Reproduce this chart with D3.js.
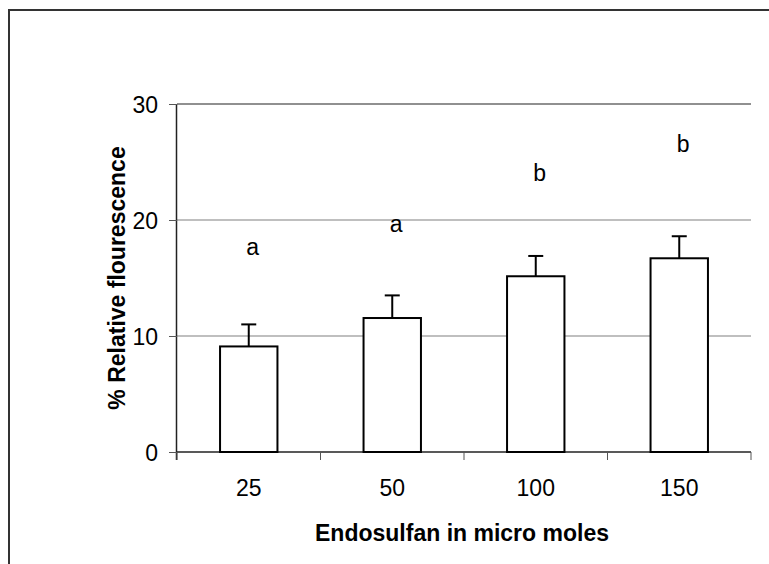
<!DOCTYPE html>
<html>
<head>
<meta charset="utf-8">
<script src="https://cdn.jsdelivr.net/npm/d3@7"></script>
<style>
  body { margin: 0; background: #fff; }
  svg text { font-family: "Liberation Sans", Arial, sans-serif; fill: #000; }
</style>
</head>
<body>
<svg id="chart"></svg>
<script>
// values
const doses = ["25", "50", "100", "150"];
const means = [9.1, 11.55, 15.15, 16.7];
const errors = [1.9, 1.95, 1.75, 1.9];
const letters = ["a", "a", "b", "b"];
const letterLevel = [17.0, 19.0, 23.4, 25.9];
const yTicks = [0, 10, 20, 30];

const W = 769, H = 564;
const margin = {top: 104, right: 18, bottom: 112, left: 177};
const innerW = W - margin.left - margin.right;
const innerH = H - margin.top - margin.bottom;
const fs = "23px";

const svg = d3.select("#chart").attr("width", W).attr("height", H);

// outer frame (only top and left edges show)
svg.append("path")
  .attr("d", `M9,${H} L9,10 L${W},10`)
  .attr("fill", "none")
  .attr("stroke", "#333")
  .attr("stroke-width", 2);

const g = svg.append("g").attr("transform", `translate(${margin.left},${margin.top})`);

const x = d3.scaleBand().domain(doses).range([0, innerW]).paddingInner(0.6).paddingOuter(0.3);
const y = d3.scaleLinear().domain([0, 30]).range([innerH, 0]);

// gridlines
g.selectAll(".grid").data(yTicks.filter(d => d > 0)).join("line")
  .attr("x1", 0).attr("x2", innerW)
  .attr("y1", d => y(d)).attr("y2", d => y(d))
  .attr("stroke", d => d === 30 ? "#222" : "#808080")
  .attr("stroke-width", 1.2);

// y axis
const yAxis = g.append("g")
  .call(d3.axisLeft(y).tickValues(yTicks).tickSize(8).tickPadding(11));
yAxis.select(".domain").attr("stroke", "#222").attr("stroke-width", 1.5).attr("d", `M-0.5,${innerH + 8}V0`);
yAxis.selectAll(".tick line").attr("stroke", "#555");
yAxis.selectAll("text").style("font-size", fs).attr("dy", "0.36em");

// x axis with ticks between categories
const band = innerW / doses.length;
g.append("line")
  .attr("x1", 0).attr("x2", innerW)
  .attr("y1", innerH).attr("y2", innerH)
  .attr("stroke", "#222").attr("stroke-width", 1.5);
g.selectAll(".xtick").data(d3.range(doses.length + 1)).join("line")
  .attr("x1", i => i * band).attr("x2", i => i * band)
  .attr("y1", innerH).attr("y2", innerH + 8)
  .attr("stroke", "#555");
g.selectAll(".xlab").data(doses).join("text")
  .attr("x", d => x(d) + x.bandwidth() / 2)
  .attr("y", innerH + 44)
  .attr("text-anchor", "middle")
  .style("font-size", fs)
  .text(d => d);

// error bars
const bars = g.selectAll(".bar").data(doses).join("g");
bars.append("line")
  .attr("x1", d => x(d) + x.bandwidth() / 2).attr("x2", d => x(d) + x.bandwidth() / 2)
  .attr("y1", (d, i) => y(means[i])).attr("y2", (d, i) => y(means[i] + errors[i]))
  .attr("stroke", "#000").attr("stroke-width", 2);
bars.append("line")
  .attr("x1", d => x(d) + x.bandwidth() / 2 - 7.5).attr("x2", d => x(d) + x.bandwidth() / 2 + 7.5)
  .attr("y1", (d, i) => y(means[i] + errors[i])).attr("y2", (d, i) => y(means[i] + errors[i]))
  .attr("stroke", "#000").attr("stroke-width", 2);
bars.append("rect")
  .attr("x", d => x(d))
  .attr("width", x.bandwidth())
  .attr("y", (d, i) => y(means[i]))
  .attr("height", (d, i) => innerH - y(means[i]))
  .attr("fill", "#fff").attr("stroke", "#000").attr("stroke-width", 2);

// significance letters
g.selectAll(".sig").data(letters).join("text")
  .attr("x", (d, i) => x(doses[i]) + x.bandwidth() / 2 + 4)
  .attr("y", (d, i) => y(letterLevel[i]))
  .attr("text-anchor", "middle")
  .style("font-size", fs)
  .text(d => d);

// axis titles
svg.append("text")
  .attr("x", 462)
  .attr("y", 541)
  .attr("text-anchor", "middle")
  .style("font-size", fs).style("font-weight", "bold")
  .text("Endosulfan in micro moles");

svg.append("text")
  .attr("transform", `translate(125,${margin.top + innerH / 2}) rotate(-90)`)
  .attr("text-anchor", "middle")
  .style("font-size", fs).style("font-weight", "bold")
  .text("% Relative flourescence");
</script>
</body>
</html>
